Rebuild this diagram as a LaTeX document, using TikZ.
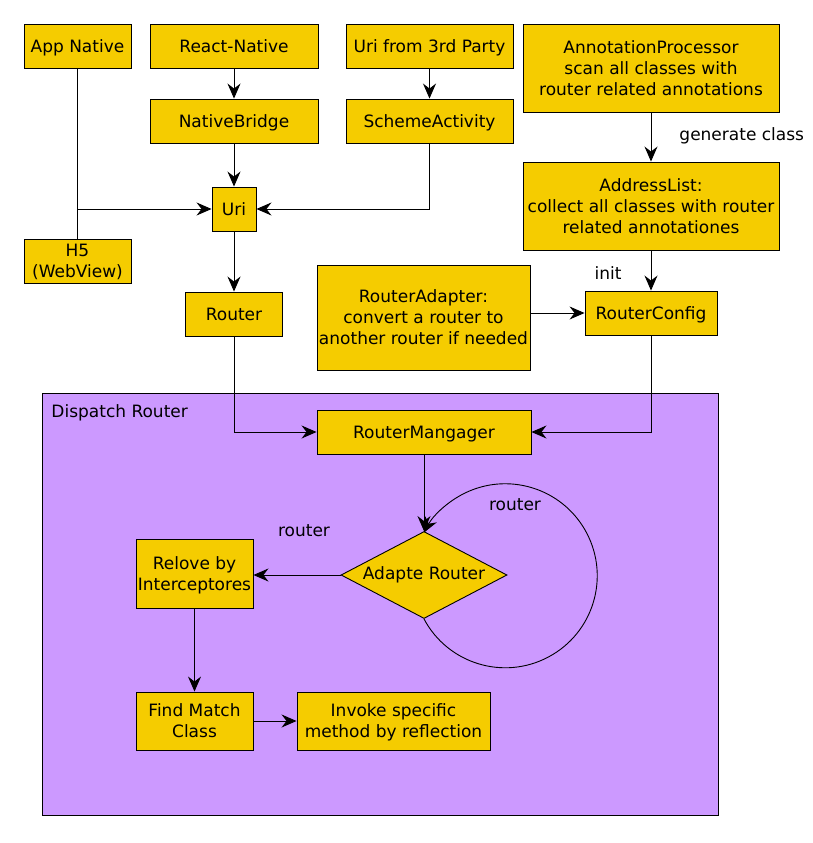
\documentclass[tikz,border=0pt]{standalone}
\usepackage{fontspec}
\setmainfont{DejaVu Sans}
\usetikzlibrary{arrows.meta}
\usetikzlibrary{shapes.geometric}
\definecolor{boxyellow}{RGB}{245,204,0}
\definecolor{dispurple}{RGB}{204,153,255}
\tikzset{
     box/.style={draw, fill=boxyellow, align=center, inner sep=1pt,
        text depth=0pt, minimum width=#1, minimum height=44},
     bigbox/.style={box=#1, minimum height=88},
     decision/.style={draw, fill=boxyellow, diamond, inner sep=0pt,
        minimum width=166, minimum height=87, aspect=1.9},
     lbl/.style={inner sep=2pt},
}
\tikzset{>={Stealth[length=15pt,width=13pt,inset=5pt]}}

\begin{document}
\begin{tikzpicture}[x=1pt, y=-1pt, line width=0.9pt,
        font=\fontsize{17}{21}\selectfont]
     \useasboundingbox (0,0) rectangle (813,843);

     % dispatch area
     \node[draw, fill=dispurple, anchor=north west, minimum width=676,
        minimum height=422, inner sep=0pt] (dispatch) at (42,393) {};
     \node[lbl, anchor=west] (disptitle) at (49,413) {Dispatch Router};

     % sources
     \node[box=107] (app) at (77.5,46) {App Native};
     \node[box=168] (react) at (234,46) {React-Native};
     \node[box=167] (third) at (429.5,46) {Uri from 3rd Party};
     \node[bigbox=256] (annot) at (651,68)
        {AnnotationProcessor\\scan all classes with\\router related annotations};
     \node[box=168] (bridge) at (234,121) {NativeBridge};
     \node[box=167] (scheme) at (429.5,121) {SchemeActivity};
     \node[box=44] (uri) at (234,209) {Uri};
     \node[box=107] (h5) at (77.5,261) {H5\\(WebView)};
     \node[bigbox=256] (addr) at (651,206)
        {AddressList:\\collect all classes with router\\related annotationes};
     \node[box=97] (router) at (234,314) {Router};
     \node[box=213, minimum height=105] (adapter) at (423.5,317.5)
        {RouterAdapter:\\convert a router to\\another router if needed};
     \node[box=132] (config) at (651,313) {RouterConfig};

     % inside dispatch
     \node[box=214] (manager) at (424,432) {RouterMangager};
     \node[decision] (adapt) at (424,575) {Adapte Router};
     \node[box=117, minimum height=69] (relove) at (194.5,574)
        {Relove by\\Interceptores};
     \node[box=117, minimum height=58] (find) at (194.5,721)
        {Find Match\\Class};
     \node[box=193, minimum height=58] (invoke) at (393.5,721)
        {Invoke specific\\method by reflection};

     \draw (app) -- (h5);
     \draw[->] (app.south |- uri) -- (uri);
     \draw[->] (react) -- (bridge);
     \draw[->] (bridge) -- (uri);
     \draw[->] (third) -- (scheme);
     \draw[->] (scheme) |- (uri);
     \draw[->] (uri) -- (router);
     \draw[->] (router) |- (manager);
     \draw[->] (annot) -- (addr);
     \node[lbl, anchor=west] (genlbl) at (677,136) {generate class};
     \draw[->] (addr) -- (config);
     \node[lbl] (initlbl) at (608,273) {init};
     \draw[->] (adapter.east |- config) -- (config);
     \draw[->] (config) |- (manager);

     \draw[->] (manager) -- (adapt);
     \draw[->] (adapt.west) -- (adapt.west -| relove.east);
     \node[lbl] (routlbl) at (304,531) {router};
     \draw[->] (adapt.south) arc[start angle=152, end angle=-152, radius=92];
     \node[lbl] (looplbl) at (515,505) {router};
     \draw[->] (relove) -- (find);
     \draw[->] (find) -- (invoke);

\end{tikzpicture}
\end{document}
